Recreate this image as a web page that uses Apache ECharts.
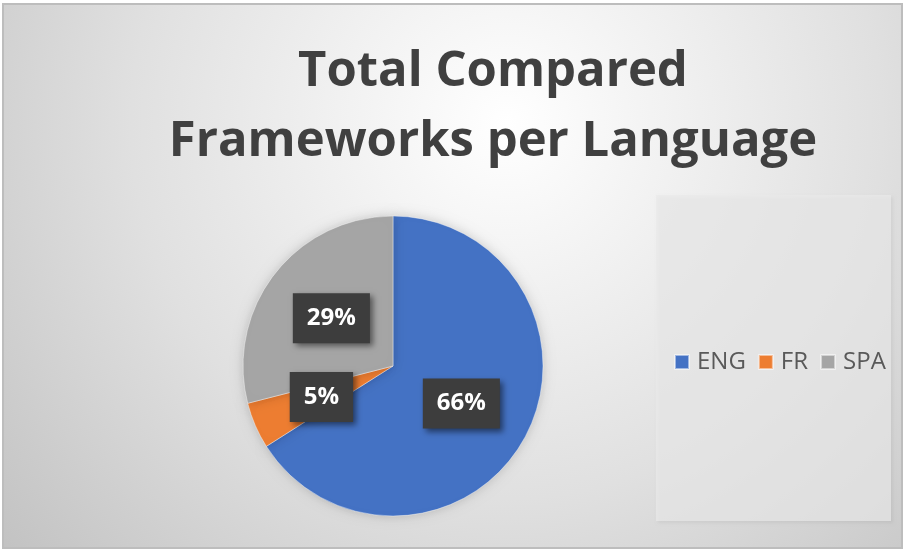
<!DOCTYPE html>
<html>
<head>
<meta charset="utf-8">
<script src="https://cdn.jsdelivr.net/npm/echarts@6/dist/echarts.min.js"></script>
<style>html,body{margin:0;padding:0;background:#fff;}#c{width:905px;height:551px;}</style>
</head>
<body>
<div id="c"></div>
<script>
const titleLines = ['Total Compared', 'Frameworks per Language'];
const categories = ['ENG', 'FR', 'SPA'];
const values = [66, 5, 29];
const colors = ['#4472c4', '#ed7d31', '#a5a5a5'];

const chart = echarts.init(document.getElementById('c'), null, {renderer: 'canvas'});
chart.setOption({
  backgroundColor: '#ffffff',
  animation: false,
  color: colors,
  graphic: [
    {
      type: 'rect', z: -10, silent: true,
      shape: {x: 3, y: 4, width: 899, height: 544},
      style: {
        fill: {type: 'radial', x: 0.56, y: 0.22, r: 1.25,
          colorStops: [{offset: 0, color: '#ffffff'}, {offset: 0.55, color: '#e0e0e0'}, {offset: 1, color: '#c0c0c0'}]},
        stroke: '#bdbdbd', lineWidth: 2
      }
    },
    {
      type: 'rect', z: -5, silent: true,
      shape: {x: 656, y: 195, width: 235, height: 326},
      style: {fill: 'rgba(234,234,234,0.7)', shadowBlur: 3, shadowColor: 'rgba(0,0,0,0.08)', shadowOffsetX: 2, shadowOffsetY: 2}
    }
  ],
  title: {
    text: titleLines.join('\n'),
    left: 488, top: 32, textAlign: 'center',
    textStyle: {fontFamily: 'Open Sans', fontWeight: 'bold', fontSize: 49, lineHeight: 70, color: '#404040'}
  },
  legend: {
    data: categories,
    left: 669, top: 345,
    orient: 'horizontal',
    icon: 'rect', itemWidth: 14, itemHeight: 14, itemGap: 12,
    textStyle: {fontFamily: 'Open Sans', fontSize: 24, color: '#595959', padding: [0, 0, 0, 3]}
  },
  series: [{
    type: 'pie',
    center: [393, 366],
    radius: 150,
    startAngle: 90,
    clockwise: true,
    percentPrecision: 0,
    data: categories.map((c, i) => ({name: c, value: values[i]})),
    itemStyle: {borderColor: 'rgba(255,255,255,0.5)', borderWidth: 0.8, shadowBlur: 12, shadowColor: 'rgba(0,0,0,0.18)'},
    label: {
      show: true, position: 'inside', formatter: '{d}%',
      fontFamily: 'Open Sans', fontWeight: 'bold', fontSize: 24, color: '#ffffff',
      backgroundColor: '#3d3d3d', padding: [14, 14, 12, 14],
      shadowBlur: 6, shadowColor: 'rgba(0,0,0,0.5)', shadowOffsetX: 3, shadowOffsetY: 3
    },
    labelLine: {show: false},
    emphasis: {disabled: true}
  }]
});
</script>
</body>
</html>
